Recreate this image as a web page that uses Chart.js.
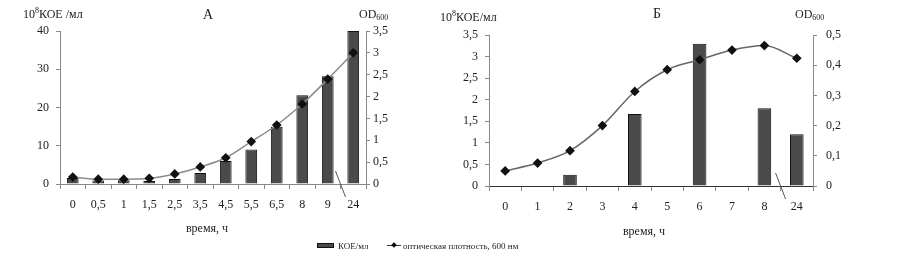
<!DOCTYPE html>
<html>
<head>
<meta charset="utf-8">
<script src="https://cdn.jsdelivr.net/npm/chart.js@4.4.1/dist/chart.umd.min.js"></script>
<style>
  body { margin: 0; background: #fff; }
  #wrap { position: relative; width: 897px; height: 268px; overflow: hidden; font-family: 'Liberation Serif', serif; color: #222; }
  canvas { position: absolute; top: 0; }
  .lbl { position: absolute; white-space: nowrap; font-size: 12px; line-height: 12px; transform: translateY(-50%); }
  .ctr { transform: translate(-50%, -50%); }
  .lbl sup { font-size: 8px; vertical-align: 5px; line-height: 0; }
  .lbl sub { font-size: 8px; vertical-align: -2px; line-height: 0; }
  .leg { font-size: 9px; line-height: 9px; }
</style>
</head>
<body>
<div id="wrap">
  <canvas id="chartA" width="440" height="268" style="left:0"></canvas>
  <canvas id="chartB" width="457" height="268" style="left:440px"></canvas>

  <span class="lbl" style="left:23px; top:14px">10<sup>8</sup>КОЕ /мл</span>
  <span class="lbl ctr" style="left:208px; top:15px; font-size:14px">А</span>
  <span class="lbl" style="left:359px; top:14px">OD<sub>600</sub></span>
  <span class="lbl ctr" style="left:207px; top:228px">время, ч</span>

  <span class="lbl" style="left:440px; top:17px">10<sup>8</sup>КОЕ/мл</span>
  <span class="lbl ctr" style="left:657px; top:14px; font-size:14px">Б</span>
  <span class="lbl" style="left:795px; top:14px">OD<sub>600</sub></span>
  <span class="lbl ctr" style="left:644px; top:231px">время, ч</span>

  <!-- legend -->
  <div style="position:absolute; left:317px; top:243px; width:17px; height:5px; background:#4a4a4a; border:1px solid #111; box-sizing:border-box"></div>
  <span class="lbl leg" style="left:338px; top:246px">КОЕ/мл</span>
  <div style="position:absolute; left:387px; top:245px; width:14px; height:1px; background:#333"></div>
  <div style="position:absolute; left:392px; top:243px; width:4px; height:4px; background:#111; transform:rotate(45deg)"></div>
  <span class="lbl leg" style="left:403px; top:246px">оптическая плотность, 600 нм</span>
</div>

<script>
// chart A
const timesA = ['0', '0,5', '1', '1,5', '2,5', '3,5', '4,5', '5,5', '6,5', '8', '9', '24'];
const cfuA = [1.6, 0.9, 1.0, 0.8, 1.3, 2.9, 6.0, 9.0, 15.0, 23.2, 28.2, 40];
const odA = [0.16, 0.11, 0.11, 0.13, 0.23, 0.39, 0.6, 0.97, 1.35, 1.83, 2.4, 3.0];

// chart B
const timesB = ['0', '1', '2', '3', '4', '5', '6', '7', '8', '24'];
const cfuB = [null, null, 0.26, null, 1.67, null, 3.3, null, 1.8, 1.2];
const odB = [0.05, 0.076, 0.117, 0.2, 0.313, 0.385, 0.418, 0.45, 0.465, 0.423];

const axisColor = '#888';
const fmt = (v) => String(+v.toFixed(2)).replace('.', ',');

Chart.defaults.font.family = "'Liberation Serif', serif";
Chart.defaults.font.size = 12;
Chart.defaults.color = '#222';

// short slanted stroke marking the break before the last category
const breakMark = {
  id: 'breakMark',
  afterDraw(chart) {
    const x = chart.scales.x;
    const n = chart.data.labels.length;
    const bx = (x.getPixelForValue(n - 2) + x.getPixelForValue(n - 1)) / 2;
    const y0 = chart.chartArea.bottom;
    const ctx = chart.ctx;
    ctx.save();
    ctx.strokeStyle = '#555';
    ctx.lineWidth = 1;
    ctx.beginPath();
    ctx.moveTo(bx - 5, y0 - 13);
    ctx.lineTo(bx + 5, y0 + 13);
    ctx.stroke();
    ctx.restore();
  },
};

function makeChart(id, labels, bars, od, cfg) {
  new Chart(document.getElementById(id), {
    type: 'bar',
    data: {
      labels: labels,
      datasets: [
        {
          type: 'line',
          label: 'оптическая плотность, 600 нм',
          data: od,
          yAxisID: 'y1',
          borderColor: cfg.lineColor,
          borderWidth: 1.5,
          cubicInterpolationMode: 'monotone',
          pointStyle: 'rectRot',
          pointRadius: 3.8,
          pointBackgroundColor: '#111',
          pointBorderColor: '#111',
          order: 0,
        },
        {
          label: 'КОЕ/мл',
          data: bars,
          yAxisID: 'y',
          backgroundColor: '#4a4a4a',
          borderColor: '#111',
          borderWidth: 1,
          barPercentage: cfg.barPct,
          categoryPercentage: 1,
          order: 1,
        },
      ],
    },
    options: {
      responsive: false,
      animation: false,
      devicePixelRatio: 1,
      layout: { padding: { top: cfg.top, left: 0, right: 0, bottom: 0 } },
      plugins: { legend: { display: false }, tooltip: { enabled: false } },
      scales: {
        x: {
          offset: true,
          grid: { drawOnChartArea: false, tickLength: 5, color: axisColor, offset: true },
          border: { color: cfg.xAxisColor },
          ticks: { padding: 9, maxRotation: 0, autoSkip: false },
          afterFit: (s) => { s.height = 268 - cfg.top - cfg.plotH; },
        },
        y: {
          position: 'left',
          min: 0,
          max: cfg.leftMax,
          grid: { drawOnChartArea: false, tickLength: 4, color: axisColor },
          border: { color: axisColor },
          ticks: { stepSize: cfg.leftStep, padding: cfg.leftPad, callback: fmt },
          afterFit: (s) => { s.width = cfg.left; },
        },
        y1: {
          position: 'right',
          min: 0,
          max: cfg.rightMax,
          grid: { drawOnChartArea: false, tickLength: 4, color: axisColor },
          border: { color: axisColor },
          ticks: { stepSize: cfg.rightStep, padding: cfg.rightPad, callback: fmt },
          afterFit: (s) => { s.width = cfg.rightW; },
        },
      },
    },
    plugins: [breakMark],
  });
}

makeChart('chartA', timesA, cfuA, odA, {
  top: 31, plotH: 153, left: 60, rightW: 74,
  leftMax: 40, leftStep: 10, rightMax: 3.5, rightStep: 0.5,
  leftPad: 7, rightPad: 3, barPct: 0.46,
  lineColor: '#8c8c8c', xAxisColor: axisColor,
});

makeChart('chartB', timesB, cfuB, odB, {
  top: 35, plotH: 151, left: 49, rightW: 84,
  leftMax: 3.5, leftStep: 0.5, rightMax: 0.5, rightStep: 0.1,
  leftPad: 7, rightPad: 9, barPct: 0.42,
  lineColor: '#666', xAxisColor: '#333',
});
</script>
</body>
</html>
